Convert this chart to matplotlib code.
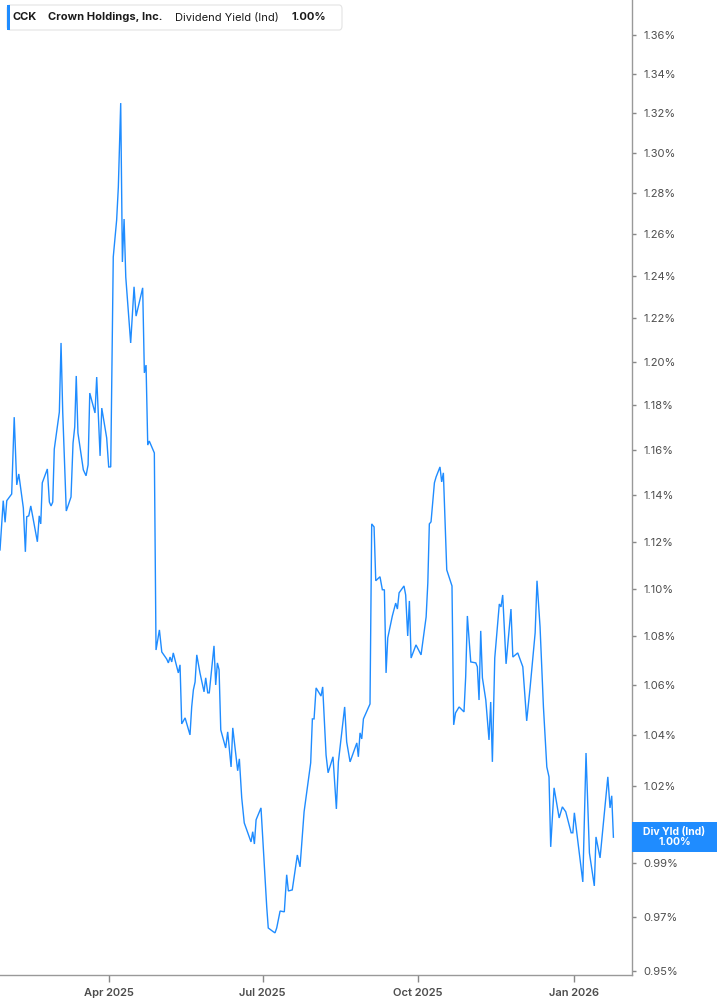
import numpy as np
import pandas as pd
import matplotlib
matplotlib.use("Agg")
import matplotlib.pyplot as plt
import matplotlib.dates as mdates
from matplotlib.patches import Rectangle, FancyBboxPatch
from matplotlib.transforms import blended_transform_factory
from matplotlib.ticker import FixedLocator, FixedFormatter, NullLocator

plt.rcParams['font.family'] = ['Inter', 'DejaVu Sans']

# ---- data: days since 2025-01-26, dividend yield (%) ----
start_date = "2025-01-26"
days = [
    0.6, 2.5, 3.6, 4.6, 7.5, 9.0, 10.5, 11.7, 14.4, 15.6, 16.4, 17.6, 18.8, 22.7, 23.8, 24.7, 25.6,
    28.6, 29.8, 30.8, 31.8, 32.7, 35.7, 36.7, 37.7, 39.8, 42.6, 43.8, 44.8, 45.7, 46.7, 49.9, 51.5,
    52.7, 53.7, 56.8, 57.8, 59.8, 60.8, 63.7, 64.9, 66.1, 67.6, 69.6, 70.6, 72.0, 73.0, 74.0, 75.0,
    77.9, 79.9, 81.1, 85.0, 86.0, 87.0, 88.0, 88.9, 91.9,
    92.9, 94.9, 96.3, 99.2, 100.2, 101.2, 102.2, 103.1, 106.1, 107.1, 108.1, 110.1, 113.0, 114.0,
    115.0, 116.0, 117.0, 118.9, 121.3, 122.3, 123.5, 124.4, 127.2, 128.2, 129.2, 130.2, 131.2, 134.1,
    135.3, 137.3, 138.3, 141.2, 142.2, 143.6, 145.1, 149.1, 150.1, 151.1, 152.1, 155.0, 158.4, 159.3,
    162.3, 163.3, 164.3, 166.3, 168.8, 170.2, 171.2, 173.5, 176.5, 178.1,
    180.5, 184.4, 185.4, 186.4, 187.6, 190.5, 191.5, 193.5, 194.7, 197.6, 199.6, 200.8, 204.5, 205.7,
    207.7, 211.7, 212.6, 213.6, 214.6, 215.6, 219.5, 220.5, 221.9, 222.9, 225.4, 226.8, 228.0, 229.0,
    230.0, 232.7, 234.7, 235.7, 236.7, 239.6, 240.6, 241.8, 242.8, 243.8, 246.7, 249.7, 252.7, 253.7,
    254.6, 255.6, 257.6, 258.6, 260.9, 261.9, 262.9, 264.9, 268.0, 269.0, 270.1, 272.2, 275.1,
    276.1, 277.1, 279.1, 282.1, 283.0, 284.0, 285.0, 286.0, 288.0, 289.9, 290.9, 291.9, 293.3, 296.0,
    297.0, 298.0, 300.0, 302.9, 304.0, 306.9, 309.9, 312.2, 314.2, 317.2, 318.3, 320.1, 322.1, 324.1,
    325.4, 326.4, 328.4, 331.4, 333.3, 335.3, 338.5, 339.5, 340.4, 345.4, 347.3, 349.3, 352.2, 353.2,
    355.6, 357.6, 360.2, 361.5, 362.5, 363.5,
]
div_yield = [
    1.1164, 1.1377, 1.1283, 1.1377, 1.1406, 1.1747, 1.1446, 1.1494, 1.1345, 1.1156, 1.1307, 1.1311,
    1.1354, 1.1199, 1.1311, 1.1276, 1.1455, 1.1516, 1.1371, 1.1354, 1.1371, 1.1604, 1.1770, 1.2086,
    1.1770, 1.1332, 1.1393, 1.1631, 1.1703, 1.1934, 1.1676, 1.1512, 1.1486, 1.1534, 1.1856, 1.1766,
    1.1929, 1.1574, 1.1788, 1.1654, 1.1525, 1.1525, 1.2491, 1.2669, 1.2830, 1.3250, 1.2467, 1.2674,
    1.2395, 1.2086, 1.2349, 1.2211, 1.2344, 1.1948, 1.1984, 1.1622, 1.1640, 1.1587,
    1.0744, 1.0827, 1.0736, 1.0707, 1.0691, 1.0715, 1.0695, 1.0732, 1.0650, 1.0683, 1.0444, 1.0468,
    1.0400, 1.0512, 1.0581, 1.0613, 1.0724, 1.0650, 1.0573, 1.0630, 1.0569, 1.0569, 1.0761, 1.0601,
    1.0691, 1.0663, 1.0420, 1.0348, 1.0412, 1.0273, 1.0428, 1.0258, 1.0305, 1.0152, 1.0055, 0.9982,
    1.0021, 0.9974, 1.0067, 1.0113, 0.9736, 0.9658, 0.9644, 0.9640, 0.9658, 0.9721, 0.9718, 0.9857,
    0.9796, 0.9800, 0.9932, 0.9887,
    1.0098, 1.0289, 1.0464, 1.0464, 1.0589, 1.0556, 1.0593, 1.0320, 1.0250, 1.0313, 1.0109, 1.0293,
    1.0512, 1.0372, 1.0293, 1.0368, 1.0313, 1.0408, 1.0384, 1.0464, 1.0524, 1.1276, 1.1263, 1.1033,
    1.1050, 1.0995, 1.0995, 1.0650, 1.0794, 1.0885, 1.0939, 1.0914, 1.0982, 1.1011, 1.0973, 1.0802,
    1.0948, 1.0711, 1.0765, 1.0724, 1.0881, 1.1024, 1.1276, 1.1285, 1.1455, 1.1481, 1.1525, 1.1459,
    1.1499, 1.1079, 1.1011, 1.0440, 1.0488, 1.0512, 1.0492,
    1.0634, 1.0885, 1.0695, 1.0691, 1.0675, 1.0540, 1.0823, 1.0630, 1.0540, 1.0380, 1.0532, 1.0293,
    1.0711, 1.0935, 1.0923, 1.0973, 1.0687, 1.0914, 1.0715, 1.0732, 1.0675, 1.0456, 1.0589, 1.0815,
    1.1033, 1.0840, 1.0512, 1.0273, 1.0234, 0.9963, 1.0191, 1.0074, 1.0117, 1.0098, 1.0017, 1.0017,
    1.0094, 0.9830, 1.0328, 0.9940, 0.9815, 1.0001, 0.9921, 1.0055, 1.0234, 1.0113, 1.0160, 1.0000,
]
y_ticks = [1.36, 1.34, 1.32, 1.30, 1.28, 1.26, 1.24, 1.22, 1.20, 1.18, 1.16, 1.14, 1.12, 1.10,
           1.08, 1.06, 1.04, 1.02, 1.00, 0.99, 0.97, 0.95]
x_tick_dates = ["2025-04-01", "2025-07-01", "2025-10-01", "2026-01-01"]
x_tick_labels = ["Apr 2025", "Jul 2025", "Oct 2025", "Jan 2026"]
ticker_sym = "CCK"
company = "Crown Holdings, Inc."
metric = "Dividend Yield (Ind)"
last_label = "Div Yld (Ind)"

n = min(len(days), len(div_yield))
dates = pd.Timestamp(start_date) + pd.to_timedelta(np.array(days[:n]), unit="D")
vals = np.array(div_yield[:n])
last = vals[-1]

LINE = "#1f8cff"
GRAY = "#4d4d4d"

fig = plt.figure(figsize=(7.17, 10.05), dpi=100)
ax = fig.add_axes([0.0, 30 / 1005, 632 / 717, 975 / 1005])
ax.plot(dates, vals, color=LINE, lw=1.0, solid_joinstyle="miter")

ax.set_yscale("log")
ax.set_ylim(0.94855, 1.3784)
ax.set_xlim(pd.Timestamp(start_date) + pd.Timedelta(days=0.59),
            pd.Timestamp(start_date) + pd.Timedelta(days=374.5))

# the tick label at the last value's level is covered by the value box
y_labels = ["" if abs(v - round(last, 2)) < 1e-9 else f"{v:.2f}%" for v in y_ticks]
ax.yaxis.tick_right()
ax.yaxis.set_major_locator(FixedLocator(y_ticks))
ax.yaxis.set_major_formatter(FixedFormatter(y_labels))
ax.yaxis.set_minor_locator(NullLocator())
ax.tick_params(axis="y", which="major", length=3, width=1, color="#888888",
               labelsize=8, labelcolor=GRAY, pad=5)

xt = [mdates.date2num(pd.Timestamp(d)) for d in x_tick_dates]
ax.xaxis.set_major_locator(FixedLocator(xt))
ax.xaxis.set_major_formatter(FixedFormatter(x_tick_labels))
ax.xaxis.set_minor_locator(NullLocator())
ax.tick_params(axis="x", which="major", length=5, width=1, color="#888888",
               labelsize=8, labelcolor=GRAY, pad=4)
for lab in ax.get_xticklabels():
    lab.set_fontweight("semibold")

for s in ["left", "top"]:
    ax.spines[s].set_visible(False)
for s in ["right", "bottom"]:
    ax.spines[s].set_color("#999999")
    ax.spines[s].set_linewidth(1.0)

# last value label box on the right axis
tr = blended_transform_factory(ax.transAxes, ax.transData)
f = np.exp(15 / 2609)
ax.add_patch(Rectangle((1.0, last / f), 717 / 632 - 1.0, last * f - last / f,
                       transform=tr, facecolor=LINE, edgecolor="none",
                       clip_on=False, zorder=5))
ax.text(1.0 + (717 / 632 - 1.0) / 2, last, f"{last_label}\n{last:.2f}%", transform=tr,
        ha="center", va="center", color="white", fontsize=7.5, fontweight="bold",
        linespacing=1.0, zorder=6, clip_on=False)

# legend box at top-left
fig.patches.append(FancyBboxPatch((7 / 717, 1 - 30 / 1005), 335 / 717, 25 / 1005,
                                  boxstyle="round,pad=0,rounding_size=0.004",
                                  transform=fig.transFigure, facecolor="white",
                                  edgecolor="#e3e3e3", lw=0.8, zorder=10))
fig.patches.append(Rectangle((7 / 717, 1 - 30 / 1005), 3 / 717, 25 / 1005,
                             transform=fig.transFigure, facecolor=LINE,
                             edgecolor="none", zorder=11))
ty = 1 - 17.5 / 1005
fig.text(13 / 717, ty, ticker_sym, fontsize=8, fontweight="bold", color="#1a1a1a",
         va="center", ha="left", zorder=12)
fig.text(48 / 717, ty, company, fontsize=8, fontweight="bold", color="#1a1a1a",
         va="center", ha="left", zorder=12)
fig.text(175 / 717, ty, metric, fontsize=8, color="#1a1a1a",
         va="center", ha="left", zorder=12)
fig.text(292 / 717, ty, f"{last:.2f}%", fontsize=8, fontweight="bold", color="#1a1a1a",
         va="center", ha="left", zorder=12)

fig.savefig("out.png", dpi=100)
